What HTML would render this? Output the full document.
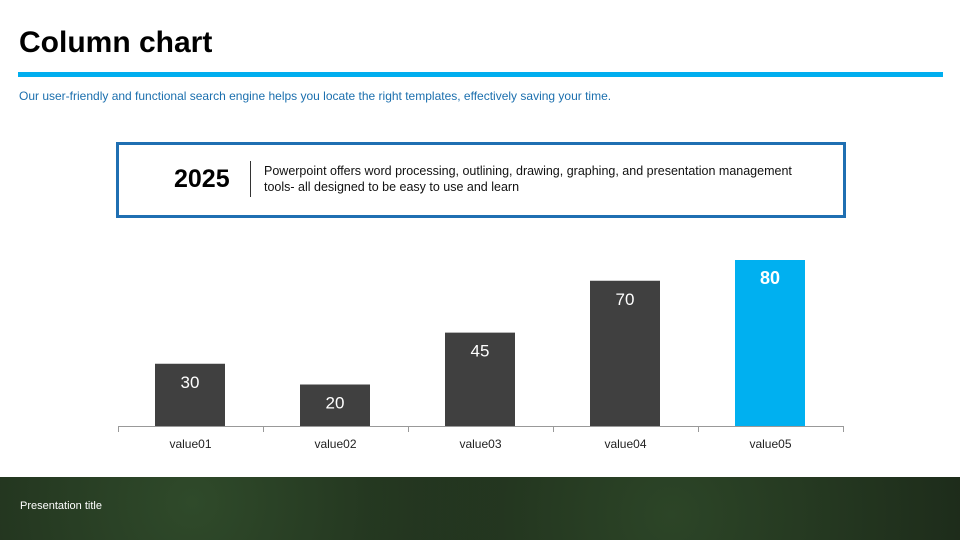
<!DOCTYPE html>
<html><head><meta charset="utf-8"><style>
body{margin:0;width:960px;height:540px;position:relative;background:#fff;font-family:"Liberation Sans","DejaVu Sans",sans-serif;overflow:hidden}
.t{position:absolute;margin:0}
</style></head><body>
<h1 class="t" style="left:19px;top:26px;font-size:30px;font-weight:bold;color:#000">Column chart</h1>
<div class="t" style="left:18px;top:72px;width:925px;height:5px;background:#00aeef"></div>
<div class="t" style="left:19px;top:89px;font-size:12px;color:#1b6fae">Our user-friendly and functional search engine helps you locate the right templates, effectively saving your time.</div>
<div class="t" style="left:116px;top:142px;width:724px;height:70px;border:3px solid #1f6fb2">
 <div class="t" style="left:55px;top:20px;font-size:25px;font-weight:bold;color:#000">2025</div>
 <div class="t" style="left:131px;top:16px;width:1px;height:36px;background:#333"></div>
 <div class="t" style="left:145px;top:18px;font-size:12.5px;line-height:16px;color:#111;width:560px">Powerpoint offers word processing, outlining, drawing, graphing, and presentation management tools- all designed to be easy to use and learn</div>
</div>
<svg id="chart" class="t" style="left:0;top:0" width="960" height="540"></svg>
<div class="t" style="left:0;top:477px;width:960px;height:63px;background:radial-gradient(circle at 20% 40%,#2f4a2a 0,transparent 40%),radial-gradient(circle at 70% 60%,#2c4527 0,transparent 45%),#1d2b1a"></div>
<div class="t" style="left:20px;top:500px;font-size:11px;color:#fff">Presentation title</div>
<script>
const categories=["value01","value02","value03","value04","value05"];
const values=[30,20,45,70,80];
const highlight=[false,false,false,false,true];
const svg=document.getElementById('chart');const NS='http://www.w3.org/2000/svg';
const x0=118,x1=843,base=426,scale=166/80;
const bw=(x1-x0)/categories.length;
const xs=i=>x0+i*bw, ys=v=>base-v*scale;
function mk(t,a){const e=document.createElementNS(NS,t);for(const k in a)e.setAttribute(k,a[k]);svg.appendChild(e);return e;}
const ax=mk('line',{x1:x0,x2:x1,y1:base+0.5,y2:base+0.5,stroke:'#999'});


for(let i=0;i<=categories.length;i++){const tk=mk('line',{x1:xs(i)+0.5,x2:xs(i)+0.5,y1:base,y2:base+6,stroke:'#999'});

}
categories.forEach((c,i)=>{
 const v=values[i],bx=xs(i)+37,y=ys(v);
 const r=mk('rect',{x:bx,y:y,width:70,height:base-y,fill:highlight[i]?'#00b0f0':'#404040'});
 
 
 const l=mk('text',{x:bx+35,y:y+24,'text-anchor':'middle','font-size':highlight[i]?18:17,'font-weight':highlight[i]?'bold':'normal',fill:'#fff','font-family':'Liberation Sans, sans-serif'});l.textContent=v;
 
 
 const t=mk('text',{x:xs(i)+bw/2,y:448,'text-anchor':'middle','font-size':12,fill:'#222','font-family':'Liberation Sans, sans-serif'});t.textContent=c;
 
 
});
</script>
</body></html>
